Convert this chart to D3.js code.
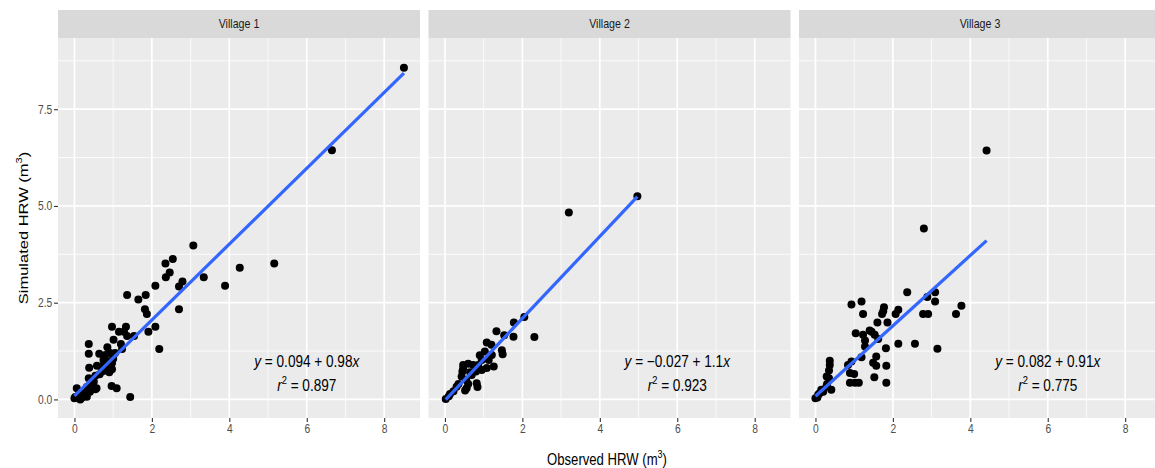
<!DOCTYPE html>
<html>
<head>
<meta charset="utf-8">
<script src="https://cdn.jsdelivr.net/npm/d3@7"></script>
<style>
  html, body { margin: 0; padding: 0; background: #fff; }
  svg { display: block; font-family: "Liberation Sans", Arial, Helvetica, sans-serif; }
</style>
</head>
<body>
<svg id="chart" width="1155" height="468"></svg>
<script>
// Observed vs simulated harvested rainwater (m³), one facet per village.
const villages = ["Village 1", "Village 2", "Village 3"];

const village1 = [
  [8.51,8.57],[6.65,6.44],[3.07,3.98],[2.54,3.63],[2.35,3.51],[2.46,3.28],[2.36,3.16],[3.34,3.16],
  [4.27,3.40],[5.16,3.51],[3.89,2.94],[2.79,3.05],[2.70,2.92],[2.09,2.94],[2.70,2.33],[1.36,2.70],
  [1.84,2.70],[1.65,2.58],[1.82,2.33],[1.87,2.21],[0.97,1.88],[1.33,1.88],[1.15,1.75],[1.28,1.75],
  [1.36,1.64],[1.54,1.64],[1.91,1.75],[2.09,1.88],[2.19,1.30],[1.01,1.54],[1.20,1.43],[1.23,1.30],
  [0.37,1.43],[0.37,1.18],[0.64,1.18],[0.85,1.35],[1.05,1.20],[0.80,1.15],[0.92,1.20],[0.75,1.02],
  [0.88,0.98],[0.97,0.94],[0.38,0.82],[0.58,0.87],[0.84,0.81],[0.97,0.78],[0.71,0.72],[0.37,0.55],
  [0.54,0.61],[0.50,0.46],[0.96,0.35],[1.09,0.29],[1.44,0.06],[0.57,0.29],[0.06,0.29],[0.32,0.32],
  [0.54,0.26],[0.24,0.16],[0.32,0.07],[0.02,0.06],[0.00,0.03],[0.15,0.00],[0.10,0.10],[0.20,0.05],
  [0.40,0.20],[0.45,0.40],[0.65,0.65],[0.78,0.90],[0.90,0.70],[1.00,1.05],[0.80,0.75],[0.70,0.85]
];

const village2 = [
  [4.97,5.25],[3.20,4.83],[2.05,2.13],[2.31,1.61],[1.78,1.99],[1.77,1.62],[1.33,1.76],[1.53,1.66],
  [1.08,1.47],[1.20,1.41],[1.47,1.27],[1.49,1.17],[0.90,1.14],[1.03,1.24],[1.13,1.02],[1.26,0.85],
  [1.08,0.81],[0.47,0.89],[0.60,0.92],[0.73,0.89],[0.86,0.89],[0.45,0.72],[0.43,0.59],[0.80,0.72],
  [0.95,0.76],[0.69,0.63],[0.82,0.42],[0.84,0.32],[0.56,0.29],[0.52,0.23],[0.30,0.33],[0.22,0.21],
  [0.13,0.14],[0.02,0.01],[0.95,1.02],[1.21,1.15],[0.47,0.80],[0.55,0.50],[0.65,0.70],[0.35,0.40],
  [0.60,0.40],[0.10,0.08]
];

const village3 = [
  [4.42,6.43],[2.80,4.42],[2.37,2.77],[3.09,2.77],[2.89,2.65],[3.09,2.53],[3.77,2.42],[3.63,2.21],
  [2.78,2.21],[2.91,2.21],[0.93,2.45],[1.19,2.53],[1.23,2.21],[1.77,2.38],[1.75,2.28],[1.72,2.21],
  [2.14,2.32],[2.07,2.21],[1.60,1.99],[1.86,1.99],[1.04,1.71],[1.23,1.67],[1.40,1.78],[1.45,1.75],
  [1.53,1.67],[1.28,1.52],[1.28,1.37],[1.62,1.56],[2.14,1.44],[2.57,1.44],[3.15,1.31],[1.82,1.32],
  [1.19,1.09],[0.93,0.98],[0.84,0.89],[1.57,1.11],[1.49,0.95],[1.57,0.87],[1.83,0.87],[1.52,0.57],
  [0.89,0.68],[1.00,0.66],[0.89,0.43],[1.02,0.43],[1.12,0.43],[1.83,0.43],[0.37,1.00],[0.37,0.89],
  [0.35,0.75],[0.29,0.59],[0.35,0.55],[0.41,0.25],[0.28,0.33],[0.15,0.25],[0.07,0.12],[0.00,0.03],
  [0.20,0.20],[0.10,0.15],[0.30,0.40],[0.05,0.05]
];

// Linear fits: intercept, slope, r²
const intercepts = [0.094, -0.027, 0.082];
const slopes = [0.98, 1.06, 0.91];
const rSquared = [0.897, 0.923, 0.775];

const xTicks = [0, 2, 4, 6, 8];
const xMinor = [1, 3, 5, 7];
const yTicks = [0, 2.5, 5, 7.5];
const yMinor = [1.25, 3.75, 6.25, 8.75];

const xTitle = "Observed HRW (m";
const yTitle = "Simulated HRW (m";

const seriesData = [village1, village2, village3];

// ---- layout ----
const svg = d3.select("#chart");
const panelLefts = [58, 428.5, 799];
const panelW = 362;
const stripTop = 10, stripBottom = 38, panelBottom = 418;
const squeeze = 0.82; // horizontal text compression

const y = d3.scaleLinear().domain([-0.48, 9.34]).range([panelBottom, stripBottom]);

const fmt2 = v => {
  const s = (+v).toPrecision(2);
  return v < 0 ? "\u2212" + s.replace("-", "") : s;
};

villages.forEach((name, i) => {
  const left = panelLefts[i];
  const x = d3.scaleLinear().domain([-0.425, 8.925]).range([left, left + panelW]);
  const g = svg.append("g");
  const clipId = "clip" + i;
  svg.append("clipPath").attr("id", clipId)
    .append("rect").attr("x", left).attr("y", stripBottom).attr("width", panelW).attr("height", panelBottom - stripBottom);

  // strip
  g.append("rect").attr("x", left).attr("y", stripTop).attr("width", panelW).attr("height", stripBottom - stripTop)
    .attr("fill", "#d9d9d9");
  g.append("text")
    .attr("transform", `translate(${left + panelW / 2},${(stripTop + stripBottom) / 2}) scale(${squeeze},1)`)
    .attr("text-anchor", "middle").attr("dominant-baseline", "central")
    .attr("font-size", 13).attr("fill", "#1a1a1a").text(name);

  // panel
  g.append("rect").attr("x", left).attr("y", stripBottom).attr("width", panelW).attr("height", panelBottom - stripBottom)
    .attr("fill", "#ebebeb");

  const grid = g.append("g").attr("stroke", "#fff");
  grid.selectAll(".xmin").data(xMinor).join("line")
    .attr("x1", d => x(d)).attr("x2", d => x(d)).attr("y1", stripBottom).attr("y2", panelBottom).attr("stroke-width", 0.8);
  grid.selectAll(".ymin").data(yMinor).join("line")
    .attr("y1", d => y(d)).attr("y2", d => y(d)).attr("x1", left).attr("x2", left + panelW).attr("stroke-width", 0.8);
  grid.selectAll(".xmaj").data(xTicks).join("line")
    .attr("x1", d => x(d)).attr("x2", d => x(d)).attr("y1", stripBottom).attr("y2", panelBottom).attr("stroke-width", 1.7);
  grid.selectAll(".ymaj").data(yTicks).join("line")
    .attr("y1", d => y(d)).attr("y2", d => y(d)).attr("x1", left).attr("x2", left + panelW).attr("stroke-width", 1.7);

  // x axis
  const xAxis = g.append("g").attr("transform", `translate(0,${panelBottom})`)
    .call(d3.axisBottom(x).tickValues(xTicks).tickFormat(d3.format("d")).tickSize(4).tickPadding(2).tickSizeOuter(0));
  xAxis.select(".domain").remove();
  xAxis.selectAll("line").attr("stroke", "#333").attr("stroke-width", 1.1);
  xAxis.selectAll("text").attr("font-size", 12.5).attr("fill", "#4d4d4d")
    .attr("font-family", null).attr("transform", `scale(${squeeze},1)`);

  // y axis on first panel only
  if (i === 0) {
    const yAxis = g.append("g").attr("transform", `translate(${left},0)`)
      .call(d3.axisLeft(y).tickValues(yTicks).tickFormat(d3.format(".1f")).tickSize(4).tickPadding(3).tickSizeOuter(0));
    yAxis.select(".domain").remove();
    yAxis.selectAll("line").attr("stroke", "#333").attr("stroke-width", 1.1);
    yAxis.selectAll("text").attr("font-size", 12.5).attr("fill", "#4d4d4d")
      .attr("font-family", null).attr("transform", `scale(${squeeze},1)`);
  }

  const plot = g.append("g").attr("clip-path", `url(#${clipId})`);
  const pts = seriesData[i];

  plot.selectAll("circle").data(pts).join("circle")
    .attr("cx", d => x(d[0])).attr("cy", d => y(d[1])).attr("r", 4).attr("fill", "#000");

  // fitted line over the observed range
  const xr = d3.extent(pts, d => d[0]);
  const fit = xr.map(v => [v, intercepts[i] + slopes[i] * v]);
  plot.append("path").datum(fit)
    .attr("d", d3.line().x(d => x(d[0])).y(d => y(d[1])))
    .attr("stroke", "#3366FF").attr("stroke-width", 3.2).attr("fill", "none");

  // equation + r²
  const eq = g.append("text")
    .attr("transform", `translate(${x(6)},${y(0.845)}) scale(0.85,1)`)
    .attr("text-anchor", "middle").attr("font-size", 16).attr("fill", "#000");
  eq.append("tspan").attr("font-style", "italic").text("y");
  eq.append("tspan").text(` = ${fmt2(intercepts[i])} + ${fmt2(slopes[i])}`);
  eq.append("tspan").attr("font-style", "italic").text("x");

  const r2 = g.append("text")
    .attr("transform", `translate(${x(6)},${y(0.22)}) scale(0.85,1)`)
    .attr("text-anchor", "middle").attr("font-size", 16).attr("fill", "#000");
  r2.append("tspan").attr("font-style", "italic").text("r");
  r2.append("tspan").attr("font-size", 11).attr("dy", -7).text("2");
  r2.append("tspan").attr("dy", 7).text(` = ${rSquared[i].toFixed(3)}`);
});

// axis titles
const xt = svg.append("text")
  .attr("transform", `translate(607,465) scale(${squeeze},1)`)
  .attr("text-anchor", "middle").attr("font-size", 16).attr("fill", "#000");
xt.append("tspan").text(xTitle);
xt.append("tspan").attr("font-size", 11).attr("dy", -7).text("3");
xt.append("tspan").attr("dy", 7).text(")");

const yt = svg.append("text")
  .attr("transform", `translate(28,${(stripBottom + panelBottom) / 2}) rotate(-90) scale(1,${squeeze})`)
  .attr("text-anchor", "middle").attr("font-size", 16.5).attr("fill", "#000");
yt.append("tspan").text(yTitle);
yt.append("tspan").attr("font-size", 11).attr("dy", -7).text("3");
yt.append("tspan").attr("dy", 7).text(")");
</script>
</body>
</html>
